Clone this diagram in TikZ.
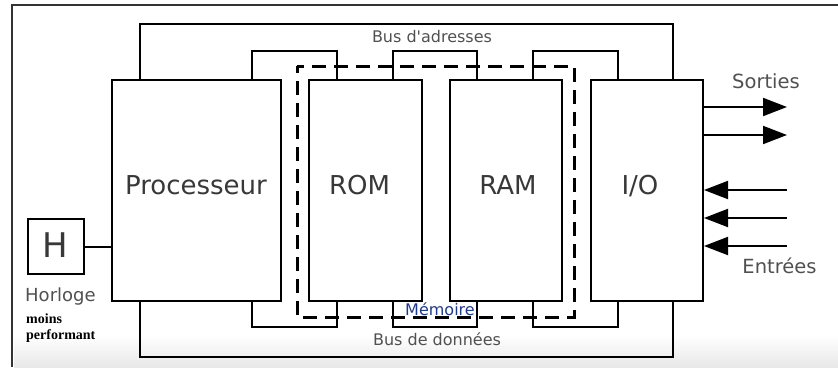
\documentclass[tikz,border=0pt]{standalone}
\usepackage{fontspec}
\setmainfont{DejaVu Sans}[Ligatures=TeXOff]
\newfontfamily\timesfont{Liberation Serif}
\usetikzlibrary{arrows.meta,calc}
\definecolor{txtc}{HTML}{383838}
\definecolor{lblc}{HTML}{505050}
\definecolor{memoc}{HTML}{1F3A8A}
\begin{document}
\begin{tikzpicture}[x=1pt,y=-1pt,
  blk/.style={draw=black,line width=2pt,inner sep=0pt,anchor=north west},
  bus/.style={draw=black,line width=2pt},
  big/.style={inner sep=0pt,anchor=base,text=txtc,font=\fontsize{26}{31}\selectfont},
  buslbl/.style={inner sep=0pt,anchor=base,text=lblc,font=\fontsize{16}{19}\selectfont},
  iolbl/.style={inner sep=0pt,anchor=base,text=lblc,font=\fontsize{19.5}{23}\selectfont},
  arr/.style={draw=black,line width=2pt,-{Triangle[length=24pt,width=18pt]}},
  memframe/.style={draw=black,line width=3pt,dash pattern=on 14pt off 8pt,dash phase=7pt}]
\useasboundingbox (0,0) rectangle (838,367);
% background shade and frame
\shade[top color=white,bottom color=black!9] (14,335) rectangle (838,367);
\draw[black!80,line width=1.5pt] (12,367) -- (12,5) -- (838,5);
% blocks
\node[blk,minimum width=168.5pt,minimum height=221pt] (proc) at (111,79) {};
\node[blk,minimum width=112.5pt,minimum height=221pt] (rom) at (308,79) {};
\node[blk,minimum width=112pt,minimum height=221pt] (ram) at (449,79) {};
\node[blk,minimum width=112.5pt,minimum height=221pt] (io) at (589.5,79) {};
\node[blk,minimum width=56pt,minimum height=55pt] (h) at (27,218) {};
% block labels
\node[big] (procL) at (196,194) {Processeur};
\node[big] (romL) at (359.5,194) {ROM};
\node[big] (ramL) at (508,194) {RAM};
\node[big] (ioL) at (640,194) {I/O};
\node[inner sep=0pt,anchor=base,text=txtc,font=\fontsize{34}{40}\selectfont] (hL) at (55,257) {H};
% bus coordinates
\coordinate (a1) at (140,24);  \coordinate (a2) at (673,24);
\coordinate (d1) at (140,357); \coordinate (d2) at (673,357);
\coordinate (t1) at (252,51);  \coordinate (t2) at (337,51);
\coordinate (t3) at (393,51);  \coordinate (t4) at (477,51);
\coordinate (t5) at (533,51);  \coordinate (t6) at (618,51);
\coordinate (b1) at (252,327); \coordinate (b2) at (337,327);
\coordinate (b3) at (393,327); \coordinate (b4) at (477,327);
\coordinate (b5) at (533,327); \coordinate (b6) at (618,327);
% outer buses
\draw[bus] (proc.north -| a1) -- (a1) -- (a2) -- (io.north -| a2);
\draw[bus] (proc.south -| d1) -- (d1) -- (d2) -- (io.south -| d2);
% inner address bus
\draw[bus] (proc.north -| t1) -- (t1) -- (t2) -- (rom.north -| t2);
\draw[bus] (rom.north -| t3) -- (t3) -- (t4) -- (ram.north -| t4);
\draw[bus] (ram.north -| t5) -- (t5) -- (t6) -- (io.north -| t6);
% inner data bus
\draw[bus] (proc.south -| b1) -- (b1) -- (b2) -- (rom.south -| b2);
\draw[bus] (rom.south -| b3) -- (b3) -- (b4) -- (ram.south -| b4);
\draw[bus] (ram.south -| b5) -- (b5) -- (b6) -- (io.south -| b6);
% clock link
\draw[bus] (h.east) -- (h.east -| proc.west);
% memory frame
\draw[memframe] (297,66) -- (574,66) -- (574,317) -- (297,317) -- cycle;
% labels
\node[buslbl] (busA) at (432,42) {Bus d'adresses};
\node[buslbl] (busD) at (437,345) {Bus de données};
\node[buslbl,text=memoc] (memL) at (440,315) {Mémoire};
\node[inner sep=0pt,anchor=base west,text=lblc,font=\fontsize{18}{21}\selectfont] (horL) at (25,301) {Horloge};
\node[inner sep=0pt,anchor=base west,font=\timesfont\bfseries\fontsize{14}{16}\selectfont] (moinsL) at (26,323) {moins};
\node[inner sep=0pt,anchor=base west,font=\timesfont\bfseries\fontsize{14}{16}\selectfont] (perfL) at (26,339) {performant};
\node[iolbl] (sortL) at (766,88) {Sorties};
\node[iolbl] (entL) at (779.5,273) {Entrées};
% outputs / inputs
\coordinate (o1) at (787,107); \coordinate (o2) at (787,135);
\coordinate (i1) at (787,190); \coordinate (i2) at (787,218); \coordinate (i3) at (787,246);
\draw[arr] (io.east |- o1) -- (o1);
\draw[arr] (io.east |- o2) -- (o2);
\draw[arr] (i1) -- (io.east |- i1);
\draw[arr] (i2) -- (io.east |- i2);
\draw[arr] (i3) -- (io.east |- i3);
\end{tikzpicture}
\end{document}
